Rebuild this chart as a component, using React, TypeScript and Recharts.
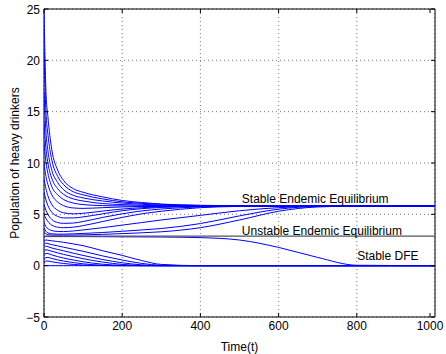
import React from "react";
import {
  LineChart,
  Line,
  XAxis,
  YAxis,
  CartesianGrid,
  ReferenceArea,
  ReferenceDot,
} from "recharts";

// sample times (t) shared by every trajectory
const T = [0, 5, 10, 20, 35, 50, 75, 100, 150, 200, 250, 300, 400, 500, 600, 700, 800, 1000];

// trajectories converging to the stable endemic equilibrium (from above)
const a1 = [25, 17, 14.5, 11.3, 9.3, 8.3, 7.5, 7.15, 6.7, 6.35, 6.15, 6.0, 5.88, 5.83, 5.81, 5.8, 5.8, 5.8];
const a2 = [21, 15, 12.8, 10.3, 8.7, 7.9, 7.2, 6.9, 6.5, 6.22, 6.07, 5.97, 5.86, 5.82, 5.8, 5.8, 5.8, 5.8];
const a3 = [17, 13, 11.2, 9.3, 8.1, 7.4, 6.85, 6.6, 6.3, 6.1, 5.98, 5.9, 5.84, 5.81, 5.8, 5.8, 5.8, 5.8];
const a4 = [14, 11.4, 10.0, 8.5, 7.5, 6.95, 6.5, 6.3, 6.05, 5.95, 5.88, 5.84, 5.81, 5.8, 5.8, 5.8, 5.8, 5.8];
const a5 = [12, 10.1, 9.0, 7.7, 6.9, 6.45, 6.1, 5.95, 5.85, 5.82, 5.8, 5.8, 5.8, 5.8, 5.8, 5.8, 5.8, 5.8];
const a6 = [10, 8.7, 7.9, 6.9, 6.2, 5.85, 5.62, 5.58, 5.65, 5.72, 5.76, 5.78, 5.8, 5.8, 5.8, 5.8, 5.8, 5.8];
const a7 = [8.5, 7.5, 6.8, 5.95, 5.4, 5.15, 5.05, 5.1, 5.32, 5.52, 5.65, 5.73, 5.79, 5.8, 5.8, 5.8, 5.8, 5.8];
const a8 = [7.2, 6.4, 5.85, 5.2, 4.8, 4.65, 4.65, 4.75, 5.05, 5.35, 5.55, 5.67, 5.77, 5.8, 5.8, 5.8, 5.8, 5.8];
// trajectories dipping first, then rising to it
const b1 = [6, 5.4, 5.0, 4.5, 4.2, 4.12, 4.15, 4.3, 4.7, 5.05, 5.33, 5.52, 5.72, 5.79, 5.8, 5.8, 5.8, 5.8];
const b2 = [5, 4.6, 4.3, 3.95, 3.75, 3.7, 3.75, 3.9, 4.3, 4.7, 5.05, 5.3, 5.65, 5.77, 5.8, 5.8, 5.8, 5.8];
const c0 = [4.2, 3.8, 3.6, 3.42, 3.33, 3.32, 3.38, 3.48, 3.7, 3.95, 4.2, 4.45, 4.9, 5.35, 5.65, 5.78, 5.8, 5.8];
const c1 = [3.7, 3.35, 3.2, 3.1, 3.07, 3.07, 3.1, 3.14, 3.23, 3.35, 3.48, 3.62, 4.1, 4.85, 5.5, 5.77, 5.8, 5.8];
const c2 = [3.35, 3.1, 3.02, 2.98, 2.97, 2.97, 2.98, 3.0, 3.05, 3.12, 3.2, 3.3, 3.7, 4.45, 5.3, 5.72, 5.8, 5.8];
// trajectories going to the disease free equilibrium
const d1 = [2.83, 2.83, 2.83, 2.83, 2.83, 2.83, 2.83, 2.83, 2.82, 2.81, 2.8, 2.79, 2.73, 2.5, 1.78, 0.8, 0.04, 0];
const d2 = [2.45, 2.5, 2.48, 2.42, 2.35, 2.28, 2.12, 1.95, 1.45, 1.0, 0.5, 0.12, 0, 0, 0, 0, 0, 0];
const d3 = [2.1, 2.2, 2.15, 2.05, 1.93, 1.8, 1.6, 1.4, 0.95, 0.55, 0.22, 0.04, 0, 0, 0, 0, 0, 0];
const d4 = [1.75, 1.9, 1.85, 1.72, 1.58, 1.45, 1.22, 1.0, 0.6, 0.28, 0.08, 0, 0, 0, 0, 0, 0, 0];
const d5 = [1.35, 1.55, 1.52, 1.4, 1.25, 1.1, 0.88, 0.68, 0.35, 0.12, 0.02, 0, 0, 0, 0, 0, 0, 0];
const d6 = [0.95, 1.2, 1.18, 1.05, 0.88, 0.74, 0.55, 0.38, 0.14, 0.03, 0, 0, 0, 0, 0, 0, 0, 0];
const d7 = [0.55, 0.8, 0.8, 0.7, 0.56, 0.45, 0.3, 0.18, 0.04, 0, 0, 0, 0, 0, 0, 0, 0, 0];
const d8 = [0.2, 0.45, 0.45, 0.38, 0.29, 0.21, 0.12, 0.06, 0.01, 0, 0, 0, 0, 0, 0, 0, 0, 0];
const d9 = [0, 0, 0, 0, 0, 0, 0, 0, 0, 0, 0, 0, 0, 0, 0, 0, 0, 0];

const UNSTABLE = 2.87;

const xTicks = [0, 200, 400, 600, 800, 1000];
const yTicks = [-5, 0, 5, 10, 15, 20, 25];

const curves: Record<string, number[]> = {
  a1, a2, a3, a4, a5, a6, a7, a8, b1, b2, c0, c1, c2,
  d1, d2, d3, d4, d5, d6, d7, d8, d9,
};

const rows = T.map((t, i) => {
  const r: any = { t, u: UNSTABLE };
  Object.keys(curves).forEach((k) => (r[k] = curves[k][i]));
  return r;
});

// plot box in pixels
const PL = 44;
const PR = 435;
const PT = 9;
const PB = 317;
const FONT = "'Liberation Sans', Arial, Helvetica, sans-serif";

const XTick = (props: any) => {
  const { x, payload } = props;
  return (
    <g>
      <line x1={x} x2={x} y1={PB} y2={PB - 4} stroke="#000" />
      <line x1={x} x2={x} y1={PT} y2={PT + 4} stroke="#000" />
      <text x={x} y={330} textAnchor="middle" fontSize={12} fontFamily={FONT} fill="#000">
        {payload.value}
      </text>
    </g>
  );
};

const YTick = (props: any) => {
  const { y, payload } = props;
  const v = payload.value < 0 ? "\u2212" + Math.abs(payload.value) : String(payload.value);
  return (
    <g>
      <line x1={PL} x2={PL + 4} y1={y} y2={y} stroke="#000" />
      <line x1={PR - 4} x2={PR} y1={y} y2={y} stroke="#000" />
      <text x={40} y={y + 4.5} textAnchor="end" fontSize={12} fontFamily={FONT} fill="#000">
        {v}
      </text>
    </g>
  );
};

const note = (text: string) => (props: any) => {
  const { x, y } = props.viewBox;
  return (
    <text x={x + 1} y={y + 1} fontSize={12} fontFamily={FONT} fill="#000">
      {text}
    </text>
  );
};

export default function App() {
  return (
    <div style={{ position: "absolute", left: 0, top: 0, width: 446, height: 354, background: "#fff", overflow: "hidden" }}>
      <LineChart width={446} height={354} data={rows} margin={{ top: 9, right: 11, left: 14, bottom: 0 }}>
        <CartesianGrid stroke="#777" strokeDasharray="1 3" />
        <XAxis
          dataKey="t"
          type="number"
          domain={[0, 1000]}
          ticks={xTicks}
          height={37}
          axisLine={false}
          tickLine={false}
          tick={XTick}
          allowDataOverflow
          label={() => (
            <text x={(PL + PR) / 2} y={351} textAnchor="middle" fontSize={12} fontFamily={FONT} fill="#000">
              Time(t)
            </text>
          )}
        />
        <YAxis
          type="number"
          domain={[-5, 25]}
          ticks={yTicks}
          width={30}
          axisLine={false}
          tickLine={false}
          tick={YTick}
          allowDataOverflow
          label={() => (
            <text
              x={18.5}
              y={(PT + PB) / 2}
              transform={`rotate(-90 18.5 ${(PT + PB) / 2})`}
              textAnchor="middle"
              fontSize={12}
              fontFamily={FONT}
              fill="#000"
            >
              Population of heavy drinkers
            </text>
          )}
        />
        <ReferenceArea x1={0} x2={1000} y1={-5} y2={25} fill="none" stroke="#000" strokeWidth={1} />
        {Object.keys(curves).map((k) => (
          <Line
            key={k}
            dataKey={k}
            type="monotone"
            stroke="#0000ff"
            strokeWidth={1}
            dot={false}
            isAnimationActive={false}
          />
        ))}
        <Line dataKey="u" type="linear" stroke="#555" strokeWidth={1.2} dot={false} isAnimationActive={false} />
        <ReferenceDot x={506} y={6.1} r={1} fill="none" stroke="none" label={note("Stable Endemic Equilibrium")} />
        <ReferenceDot x={506} y={3.02} r={1} fill="none" stroke="none" label={note("Unstable Endemic Equilibrium")} />
        <ReferenceDot x={801} y={0.58} r={1} fill="none" stroke="none" label={note("Stable DFE")} />
      </LineChart>
    </div>
  );
}
